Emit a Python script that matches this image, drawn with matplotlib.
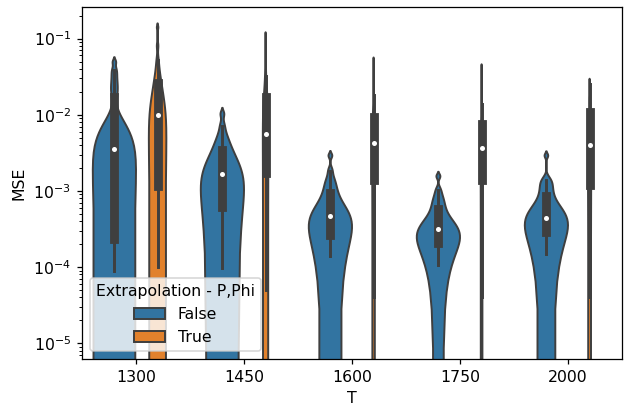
import matplotlib
matplotlib.use("Agg")
import matplotlib.pyplot as plt
import seaborn as sns
import pandas as pd

temperatures = ["1300", "1450", "1600", "1750", "2000"]
hue_levels = ["False", "True"]

# MSE samples per (T, extrapolation) group
mse_1300_false = [9e-5, 1.2e-4, 1.5e-4, 1.8e-4, 2.0e-4, 2.3e-4, 5e-4, 1.0e-3, 1.7e-3, 2.6e-3, 3.6e-3,
                  4.3e-3, 5.0e-3, 6.0e-3, 8.0e-3, 1.73e-2, 2.2e-2, 2.7e-2, 3.3e-2, 3.9e-2, 4.9e-2]
mse_1300_true = [1.0e-4, 2e-4, 3.5e-4, 5.5e-4, 8e-4, 1.15e-3, 2e-3, 3.5e-3, 5e-3, 7.5e-3, 1.0e-2,
                 1.3e-2, 1.6e-2, 1.9e-2, 2.2e-2, 2.6e-2, 3.2e-2, 4.0e-2, 5.2e-2, 8.0e-2, 1.4e-1]
mse_1450_false = [9.8e-5, 2e-4, 3e-4, 4e-4, 5e-4, 6.1e-4, 8e-4, 1.0e-3, 1.2e-3, 1.4e-3, 1.66e-3,
                  1.9e-3, 2.2e-3, 2.5e-3, 2.9e-3, 3.4e-3, 3.9e-3, 4.6e-3, 5.5e-3, 7.2e-3, 1.02e-2]
mse_1450_true = [5e-5, 1.5e-4, 4e-4, 7e-4, 1.1e-3, 1.7e-3, 2.3e-3, 3e-3, 3.7e-3, 4.6e-3, 5.6e-3,
                 7e-3, 8.5e-3, 1.05e-2, 1.3e-2, 1.7e-2, 2.3e-2, 3.2e-2, 4.5e-2, 7e-2, 1.0e-1]
mse_1600_false = [1.4e-4, 1.95e-4, 2.15e-4, 2.3e-4, 2.45e-4, 2.6e-4, 2.95e-4, 3.3e-4, 3.7e-4, 4.2e-4, 4.7e-4,
                  5.3e-4, 6.0e-4, 6.8e-4, 8.0e-4, 9.3e-4, 1.08e-3, 1.25e-3, 1.45e-3, 1.85e-3, 2.9e-3]
mse_1600_true = [4e-5, 1.2e-4, 3e-4, 6e-4, 1.0e-3, 1.4e-3, 1.9e-3, 2.4e-3, 3.0e-3, 3.6e-3, 4.3e-3,
                 5.0e-3, 5.8e-3, 6.7e-3, 7.9e-3, 9.3e-3, 1.15e-2, 1.4e-2, 1.8e-2, 2.6e-2, 4.9e-2]
mse_1750_false = [1.05e-4, 1.6e-4, 1.75e-4, 1.85e-4, 2.0e-4, 2.1e-4, 2.3e-4, 2.5e-4, 2.7e-4, 2.95e-4, 3.2e-4,
                  3.5e-4, 3.9e-4, 4.4e-4, 5.0e-4, 5.8e-4, 6.6e-4, 7.5e-4, 8.6e-4, 1.03e-3, 1.55e-3]
mse_1750_true = [4e-5, 1.2e-4, 3e-4, 6e-4, 1.0e-3, 1.4e-3, 1.8e-3, 2.3e-3, 2.7e-3, 3.2e-3, 3.7e-3,
                 4.3e-3, 4.9e-3, 5.6e-3, 6.5e-3, 7.6e-3, 9.2e-3, 1.1e-2, 1.4e-2, 2.0e-2, 4.0e-2]
mse_2000_false = [1.5e-4, 2.1e-4, 2.35e-4, 2.55e-4, 2.75e-4, 2.9e-4, 3.2e-4, 3.5e-4, 3.8e-4, 4.1e-4, 4.4e-4,
                  4.9e-4, 5.5e-4, 6.3e-4, 7.4e-4, 8.7e-4, 1.0e-3, 1.15e-3, 1.3e-3, 1.4e-3, 2.9e-3]
mse_2000_true = [4e-5, 1.2e-4, 2.8e-4, 5e-4, 8e-4, 1.2e-3, 1.7e-3, 2.2e-3, 2.7e-3, 3.3e-3, 4.0e-3,
                 4.8e-3, 5.8e-3, 7.0e-3, 8.8e-3, 1.1e-2, 1.3e-2, 1.5e-2, 1.7e-2, 1.9e-2, 2.5e-2]

groups = {
    ("1300", "False"): mse_1300_false, ("1300", "True"): mse_1300_true,
    ("1450", "False"): mse_1450_false, ("1450", "True"): mse_1450_true,
    ("1600", "False"): mse_1600_false, ("1600", "True"): mse_1600_true,
    ("1750", "False"): mse_1750_false, ("1750", "True"): mse_1750_true,
    ("2000", "False"): mse_2000_false, ("2000", "True"): mse_2000_true,
}

# kernel bandwidth adjustment per T group (styling of the density estimate)
bw_adjust_per_T = [0.5, 0.75, 0.6, 0.6, 0.6]

rows = []
for (t, h), vals in groups.items():
    for v in vals:
        rows.append({"T": t, "Extrapolation - P,Phi": h, "MSE": v})
df = pd.DataFrame(rows)

DPI = 113
fig = plt.figure(figsize=(624 / DPI, 405 / DPI), dpi=DPI)
ax = fig.add_axes([82 / 624, 46 / 405, 540 / 624, 352 / 405])

# widths normalised within each T group (both hues together)
for i, t in enumerate(temperatures):
    sub = df[df["T"] == t]
    sns.violinplot(data=sub, x="T", y="MSE", hue="Extrapolation - P,Phi",
                   order=temperatures, hue_order=hue_levels, ax=ax,
                   common_norm=True, legend=(i == 0), bw_adjust=bw_adjust_per_T[i],
                   inner_kws=dict(marker="o"))

for line in ax.lines:
    if line.get_marker() == "o":
        line.set_markersize(3.2)
        line.set_markerfacecolor("white")
        line.set_markeredgewidth(0)

ax.set_yscale("log")
ax.set_ylim(6.2e-6, 0.26)
ax.set_xlim(-0.5, 4.5)
ax.set_xlabel("T")
ax.set_ylabel("MSE")
sns.move_legend(ax, "lower left", title="Extrapolation - P,Phi")

fig.savefig("out.png", dpi=DPI)
